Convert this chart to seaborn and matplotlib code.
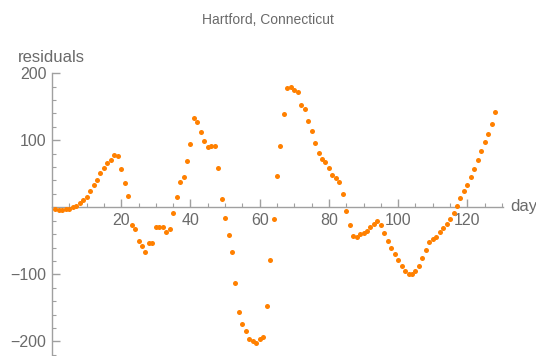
import numpy as np
import pandas as pd
import matplotlib
matplotlib.use("Agg")
import matplotlib.pyplot as plt
import seaborn as sns

days = list(range(1, 129))
residuals = [
    -3, -3.5, -3.5, -3, -2, 0, 2, 6, 11, 16,
    24, 33, 41, 51, 58, 66, 71, 78, 76, 57,
    37, 17, -26, -33, -51, -58, -66, -54, -54, -30,
    -30, -30, -37, -33, -9, 15, 38, 45, 69, 95,
    133, 127, 113, 99, 90, 91, 91, 59, 13, -16,
    -42, -66, -113, -156, -174, -185, -196, -199, -202, -197,
    -193, -147, -79, -17, 46, 92, 139, 178, 180, 175,
    172, 153, 146, 129, 114, 96, 81, 72, 68, 59,
    48, 44, 38, 20, -5, -26, -43, -44, -40, -38,
    -35, -29, -25, -20, -27, -38, -50, -61, -70, -79,
    -87, -95, -100, -100, -95, -87, -75, -63, -52, -47,
    -44, -37, -31, -25, -18, -8, 2, 14, 25, 34,
    45, 57, 70, 84, 98, 110, 124, 142,
]
x_ticks = [20, 40, 60, 80, 100, 120]
y_ticks = [-200, -100, 100, 200]

df = pd.DataFrame({"day": days, "residuals": residuals})

sns.set_style("white")
plt.rcParams["font.family"] = ["Liberation Sans", "DejaVu Sans"]

W, H = 536, 356
fig = plt.figure(figsize=(W / 100, H / 100), dpi=100)
left, right = 52, 503
top, bottom = 73.3, 354.7
ax = fig.add_axes([left / W, (H - bottom) / H, (right - left) / W, (bottom - top) / H])
ax.patch.set_alpha(0)

sns.scatterplot(data=df, x="day", y="residuals", ax=ax, color="#FF8000",
                s=13, linewidth=0, legend=False, clip_on=False, zorder=3)

ax.set_xlim(0, 130.3)
ax.set_ylim(-220, 200)

axis_col = "#a0a0a0"
text_col = "#6a6a6a"
for s in ["top", "right"]:
    ax.spines[s].set_visible(False)
ax.spines["bottom"].set_position(("data", 0))
ax.spines["left"].set_position(("data", 0))
for s in ["bottom", "left"]:
    ax.spines[s].set_color(axis_col)
    ax.spines[s].set_linewidth(1.0)

ax.set_xticks(x_ticks)
ax.set_xticklabels([str(t) for t in x_ticks])
ax.set_yticks(y_ticks)
ax.set_yticklabels([str(t).replace("-", "\u2212") for t in y_ticks])
ax.set_xticks(np.arange(5, 131, 5), minor=True)
ax.set_yticks(np.arange(-220, 201, 20), minor=True)
ax.tick_params(axis="both", which="both", bottom=True, left=True, top=False, right=False)
ax.tick_params(axis="both", which="major", direction="in", length=5.5, width=1,
               color=axis_col, labelcolor=text_col, labelsize=11.5, pad=4)
ax.tick_params(axis="both", which="minor", direction="in", length=3.2, width=0.8,
               color=axis_col)
ax.set_xlabel("")
ax.set_ylabel("")

fig.text(268 / W, 1 - 20 / H, "Hartford, Connecticut", ha="center", va="center",
         fontsize=10, color=text_col)
fig.text(18 / W, 1 - 57 / H, "residuals", ha="left", va="center",
         fontsize=12, color=text_col)
fig.text(510 / W, 1 - 206 / H, "day", ha="left", va="center", fontsize=12, color=text_col)

fig.savefig("out.png", dpi=100)
